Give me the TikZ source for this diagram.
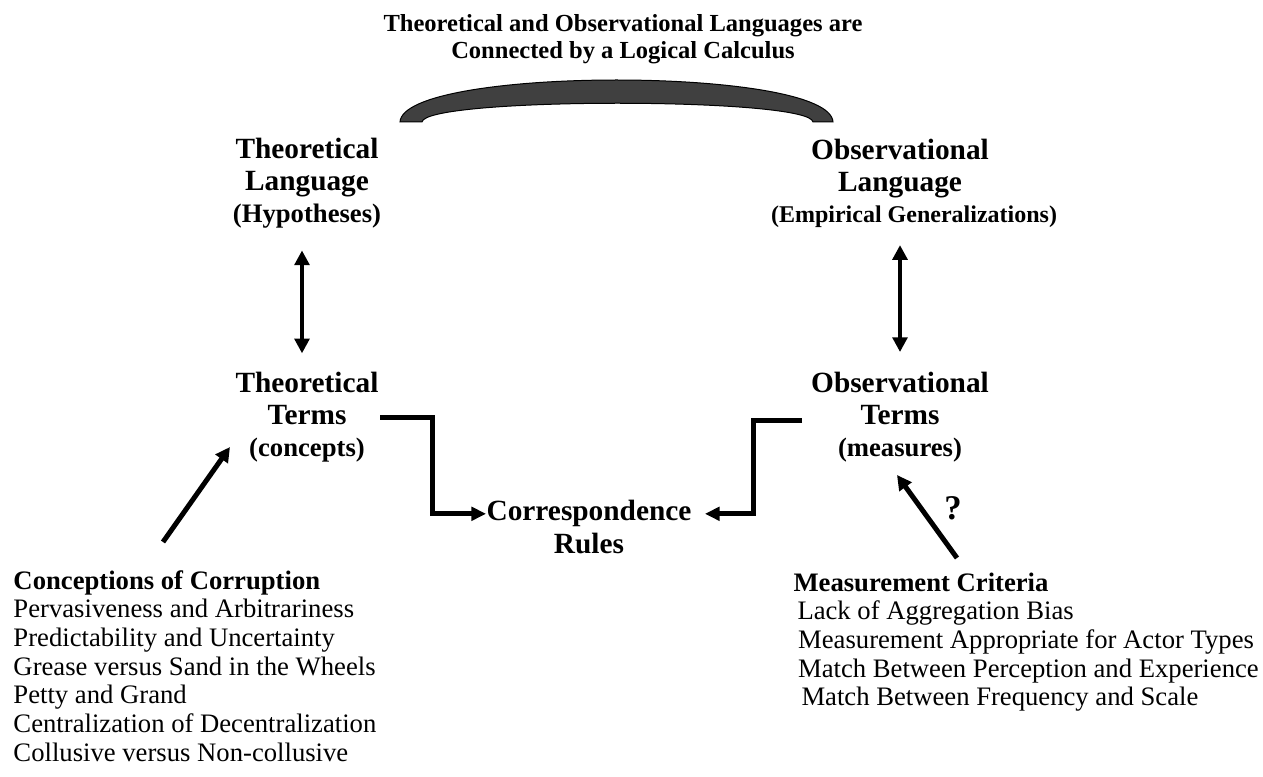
\documentclass[tikz,border=0pt]{standalone}
\usepackage{fontspec}
\setmainfont{Liberation Serif}
\usetikzlibrary{arrows.meta}

\tikzset{every picture/.style={line width=0.75pt}}
\tikzset{
  bigtxt/.style={font=\bfseries\fontsize{22}{24}\selectfont, align=center, inner sep=0pt, anchor=north},
  listtxt/.style={font=\fontsize{20}{21.5}\selectfont, align=left, inner sep=0pt, anchor=north west},
  dblarr/.style={line width=3pt, {Triangle[length=11pt,width=11pt]}-{Triangle[length=11pt,width=11pt]}},
  elbarr/.style={line width=3.75pt, -{Triangle[length=11pt,width=10pt]}},
  diagarr/.style={line width=3.75pt, -{Triangle[length=11pt,width=11pt]}},
}
\newcommand{\subtxt}[1]{{\fontsize{20}{24}\selectfont #1}}

\begin{document}
\begin{tikzpicture}[x=0.75pt,y=0.75pt,yscale=-1,xscale=1]
	\useasboundingbox (0,0) rectangle (1263,777);

	%Shape: Arc [id:calculus]
	\draw [fill={rgb, 255:red, 64; green, 64; blue, 64 }] (400,122) .. controls (403,66) and (830,66) .. (833,122) -- (813,122) .. controls (810,97) and (425,97) .. (422,122) -- cycle ;

	% Text Node
	\draw (623,14) node (title) [font=\bfseries\fontsize{18.4}{20.25}\selectfont, align=center, inner sep=0pt, anchor=north] {Theoretical and Observational Languages are\\Connected by a Logical Calculus};
	% Text Node
	\draw (307,138) node (thlang) [bigtxt] {Theoretical\\Language\\\subtxt{(Hypotheses)}};
	% Text Node
	\draw (900,139) node (oblang) [bigtxt] {Observational\\Language};
	% Text Node
	\draw (914,205) node (empgen) [font=\bfseries\fontsize{18}{24}\selectfont, inner sep=0pt, anchor=north] {(Empirical Generalizations)};
	% Text Node
	\draw (307,372) node (thterms) [bigtxt] {Theoretical\\Terms\\\subtxt{(concepts)}};
	% Text Node
	\draw (900,372) node (obterms) [bigtxt] {Observational\\Terms\\\subtxt{(measures)}};
	% Text Node
	\draw (589,500) node (corr) [bigtxt] {Correspondence};
	% Text Node
	\draw (589,533) node (rules) [bigtxt] {Rules};
	% Text Node
	\draw (953,508) node (qmark) [font=\bfseries\fontsize{26}{28}\selectfont, inner sep=0pt] {?};
	% Text Node
	\draw (13,570) node (concep) [listtxt] {\textbf{Conceptions of Corruption}\\Pervasiveness and Arbitrariness\\Predictability and Uncertainty\\Grease versus Sand in the Wheels\\Petty and Grand\\Centralization of Decentralization\\Collusive versus Non-collusive};
	% Text Node
	\draw (793,572) node (meascrit) [listtxt] {\textbf{Measurement Criteria}\\\hspace*{3pt}Lack of Aggregation Bias\\\hspace*{3.5pt}Measurement Appropriate for Actor Types\\\hspace*{3.5pt}Match Between Perception and Experience\\\hspace*{6pt}Match Between Frequency and Scale};

	%Straight Lines [id:languages to terms]
	\draw [dblarr, shorten <=16pt, shorten >=14pt] ([xshift=-3.75pt]thlang.south) -- ([xshift=-3.75pt]thterms.north);
	\draw [dblarr, shorten <=13pt, shorten >=15pt] (empgen.south -| oblang.south) -- (obterms.north);

	%Elbow Lines [id:terms to rules]
	\coordinate (thout) at (380,417);
	\coordinate (obout) at (802,420);
	\draw [elbarr] (thout) -- ++(52,0) |- (corr.west);
	\draw [elbarr, shorten >=9.75pt] (obout) -- ++(-49,0) |- (corr.east);

	%Straight Lines [id:lists to terms]
	\coordinate (concA) at (163,542);
	\coordinate (concB) at (230,447);
	\draw [diagarr] (concA) -- (concB);
	\coordinate (measA) at (957,558);
	\coordinate (measB) at (897,475);
	\draw [diagarr] (measA) -- (measB);

\end{tikzpicture}
\end{document}
